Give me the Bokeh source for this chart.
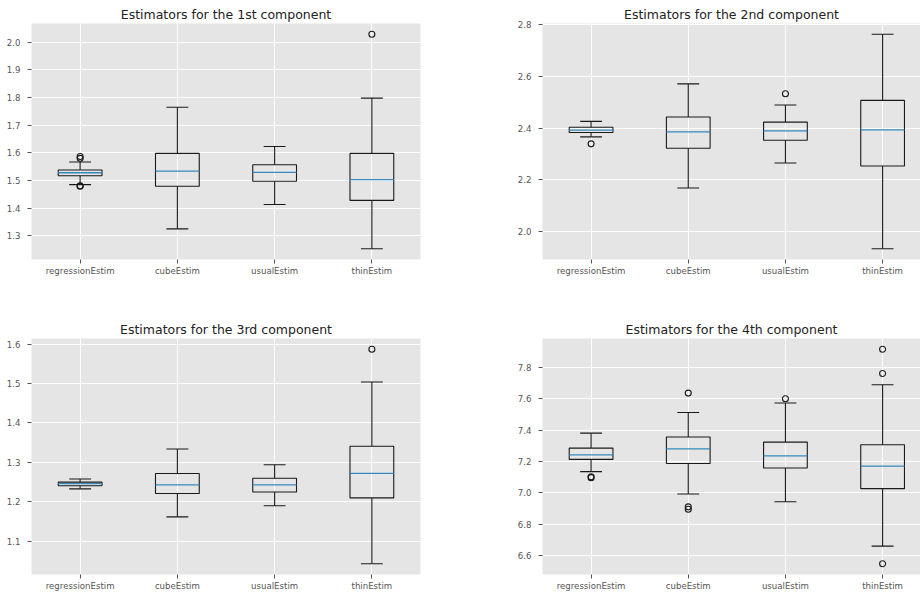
from bokeh.plotting import figure
from bokeh.layouts import column, row
from bokeh.models import FixedTicker, Range1d, ColumnDataSource, NumeralTickFormatter
from bokeh.embed import file_html
from bokeh.resources import INLINE

estimators = ["regressionEstim", "cubeEstim", "usualEstim", "thinEstim"]
titles = ["Estimators for the 1st component", "Estimators for the 2nd component",
          "Estimators for the 3rd component", "Estimators for the 4th component"]

# per component: whisker low, q1, median, q3, whisker high (one entry per estimator)
c1_low = [1.485, 1.325, 1.413, 1.253]
c1_q1 = [1.517, 1.479, 1.497, 1.428]
c1_med = [1.528, 1.534, 1.529, 1.503]
c1_q3 = [1.538, 1.598, 1.557, 1.598]
c1_high = [1.567, 1.765, 1.623, 1.798]
c1_out = [[1.587, 1.580, 1.479, 1.481], [], [], [2.029]]

c2_low = [2.366, 2.168, 2.265, 1.933]
c2_q1 = [2.383, 2.322, 2.353, 2.253]
c2_med = [2.392, 2.385, 2.389, 2.393]
c2_q3 = [2.403, 2.443, 2.423, 2.507]
c2_high = [2.426, 2.571, 2.489, 2.763]
c2_out = [[2.339], [], [2.533], []]

c3_low = [1.233, 1.162, 1.190, 1.043]
c3_q1 = [1.241, 1.221, 1.225, 1.210]
c3_med = [1.246, 1.243, 1.243, 1.272]
c3_q3 = [1.250, 1.272, 1.260, 1.341]
c3_high = [1.258, 1.334, 1.294, 1.504]
c3_out = [[], [], [], [1.587]]

c4_low = [7.135, 6.993, 6.944, 6.661]
c4_q1 = [7.213, 7.187, 7.158, 7.027]
c4_med = [7.242, 7.280, 7.236, 7.170]
c4_q3 = [7.285, 7.356, 7.323, 7.306]
c4_high = [7.380, 7.511, 7.572, 7.688]
c4_out = [[7.103, 7.097], [7.635, 6.911, 6.896], [7.599], [7.914, 7.760, 6.549]]

c1_ticks = [1.3, 1.4, 1.5, 1.6, 1.7, 1.8, 1.9, 2.0]
c2_ticks = [2.0, 2.2, 2.4, 2.6, 2.8]
c3_ticks = [1.1, 1.2, 1.3, 1.4, 1.5, 1.6]
c4_ticks = [6.6, 6.8, 7.0, 7.2, 7.4, 7.6, 7.8]

components = [
    (c1_low, c1_q1, c1_med, c1_q3, c1_high, c1_out, c1_ticks),
    (c2_low, c2_q1, c2_med, c2_q3, c2_high, c2_out, c2_ticks),
    (c3_low, c3_q1, c3_med, c3_q3, c3_high, c3_out, c3_ticks),
    (c4_low, c4_q1, c4_med, c4_q3, c4_high, c4_out, c4_ticks),
]

BOX_W = 0.45
MEDIAN_COLOR = "#348ABD"
FONT = "DejaVu Sans"


def make_panel(idx, width, height, bl, br, bt, bb, x_end):
    low, q1, med, q3, high, outs, ticks = components[idx]
    pos = [i + 1 for i in range(len(estimators))]
    allv = low + high + [v for o in outs for v in o]
    lo, hi = min(allv), max(allv)
    pad = 0.05 * (hi - lo)
    p = figure(x_range=Range1d(0.5, x_end),
               y_range=Range1d(lo - pad, hi + pad),
               width=width, height=height, output_backend="svg", toolbar_location=None,
               min_border_left=bl, min_border_right=br, min_border_top=bt, min_border_bottom=bb,
               title=titles[idx])
    p.title.text_font = FONT
    p.title.text_font_size = "12.5px"
    p.title.text_font_style = "normal"
    p.title.text_color = "#222222"
    p.title.align = "center"
    p.title.standoff = 4
    p.background_fill_color = "#E5E5E5"
    p.border_fill_color = "white"
    p.outline_line_color = None
    for g in (p.xgrid, p.ygrid):
        g.grid_line_color = "white"
        g.grid_line_width = 1
    for ax in (p.xaxis, p.yaxis):
        ax.axis_line_color = None
        ax.major_tick_line_color = "#555555"
        ax.major_tick_out = 4
        ax.major_tick_in = 0
        ax.minor_tick_line_color = None
        ax.major_label_text_font = FONT
        ax.major_label_text_font_size = "8.6px"
        ax.major_label_text_color = "#555555"
    p.xaxis.ticker = FixedTicker(ticks=pos)
    p.xaxis.major_label_overrides = {k: name for k, name in zip(pos, estimators)}
    p.yaxis.ticker = FixedTicker(ticks=ticks)
    p.yaxis.formatter = NumeralTickFormatter(format="0.0")
    p.yaxis.major_label_standoff = 7
    p.xaxis.major_label_standoff = 2

    src = ColumnDataSource(dict(
        x=pos, low=low, q1=q1, med=med, q3=q3, high=high,
        bl=[x - BOX_W / 2 for x in pos], br=[x + BOX_W / 2 for x in pos],
        cl=[x - BOX_W / 4 for x in pos], cr=[x + BOX_W / 4 for x in pos]))
    lc = "#1a1a1a"
    # boxes
    p.vbar(x="x", width=BOX_W, bottom="q1", top="q3", source=src,
           fill_color=None, line_color=lc, line_width=1.1)
    # whiskers
    p.segment(x0="x", x1="x", y0="q3", y1="high", source=src, line_color=lc, line_width=1.1)
    p.segment(x0="x", x1="x", y0="q1", y1="low", source=src, line_color=lc, line_width=1.1)
    # caps
    p.segment(x0="cl", x1="cr", y0="high", y1="high", source=src, line_color=lc, line_width=1.1)
    p.segment(x0="cl", x1="cr", y0="low", y1="low", source=src, line_color=lc, line_width=1.1)
    # medians
    p.segment(x0="bl", x1="br", y0="med", y1="med", source=src,
              line_color=MEDIAN_COLOR, line_width=1.3)
    # fliers
    ox = [pos[i] for i, o in enumerate(outs) for _ in o]
    oy = [v for o in outs for v in o]
    if oy:
        p.scatter(x=ox, y=oy, marker="circle", size=6, fill_color=None,
                  line_color=lc, line_width=1.1)
    return p


# right-hand panels are cut off at the page edge, as in the original figure
p1 = make_panel(0, 460, 297, 31, 40, 23, 38, 4.5)
p2 = make_panel(1, 460, 297, 82, 0, 23, 38, 4.39)
p3 = make_panel(2, 460, 298, 31, 40, 41, 21, 4.5)
p4 = make_panel(3, 460, 298, 82, 0, 41, 21, 4.39)

layout = column(row(p1, p2), row(p3, p4))
open("out.html", "w").write(file_html(layout, INLINE))
